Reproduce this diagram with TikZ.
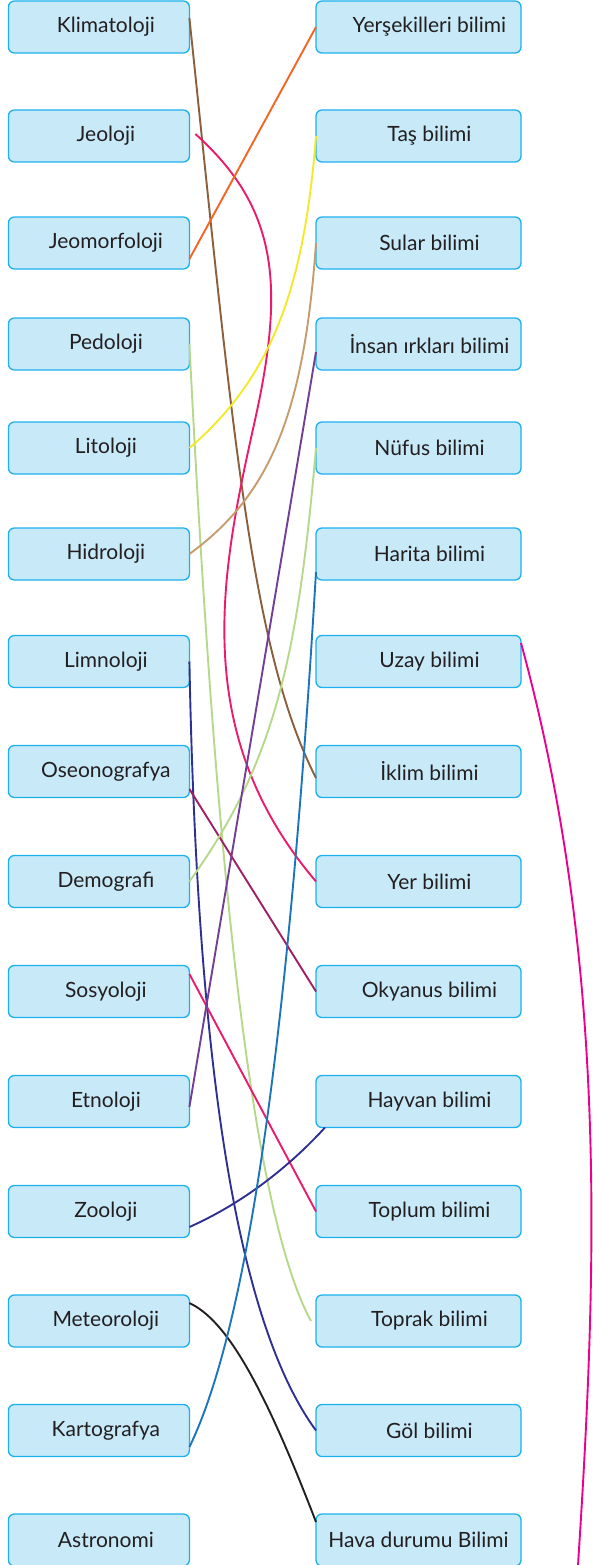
\documentclass[tikz,border=0pt]{standalone}
\usepackage{fontspec}
\setmainfont{Lato}
\usepackage{xcolor}
\usepackage{tikz}
\usetikzlibrary{positioning, calc}
\definecolor{boxfill}{HTML}{C7E9F8}
\definecolor{boxline}{HTML}{1CB1EE}
\definecolor{txt}{HTML}{231F20}
\definecolor{cbrown}{HTML}{8B5E3C}
\definecolor{corange}{HTML}{F26522}
\definecolor{cpink}{HTML}{EC1A6A}
\definecolor{cyellow}{HTML}{F2E92A}
\definecolor{ctan}{HTML}{C69C6D}
\definecolor{cgreen}{HTML}{B6D88A}
\definecolor{cpurple}{HTML}{723E96}
\definecolor{cnavy}{HTML}{2E3192}
\definecolor{cmaroon}{HTML}{9E1F63}
\definecolor{cblue}{HTML}{1C75BC}
\definecolor{cmagenta}{HTML}{EC008C}
\tikzstyle{namebox} = [rectangle, minimum width=181pt, minimum height=52pt, text centered, draw=boxline, fill=boxfill, rounded corners=6pt, line width=1.3pt, outer sep=0pt, text=txt, font=\fontsize{21}{25}\selectfont]
\tikzstyle{leftbox} = [namebox, execute at begin node=\hspace*{14pt}]
\tikzstyle{widebox} = [namebox, minimum width=205pt]
\tikzstyle{rightbox} = [widebox, execute at begin node=\hspace*{22pt}]
\tikzstyle{link} = [line width=1.9pt]

\begin{document}
\begin{tikzpicture}[x=1pt, y=1pt]
    \useasboundingbox (0,0) rectangle (593,-1565);

    % Left column
    \node (klima) [leftbox] at (98.9,-27) {Klimatoloji};
    \node (jeoloji) [leftbox, below=57pt of klima] {Jeoloji};
    \node (jeomorf) [leftbox, below=55pt of jeoloji] {Jeomorfoloji};
    \node (pedoloji) [leftbox, below=49pt of jeomorf] {Pedoloji};
    \node (litoloji) [leftbox, below=52pt of pedoloji] {Litoloji};
    \node (hidroloji) [leftbox, below=54pt of litoloji] {Hidroloji};
    \node (limnoloji) [leftbox, below=55.5pt of hidroloji] {Limnoloji};
    \node (oseono) [leftbox, below=58pt of limnoloji] {Oseonografya};
    \node (demografi) [leftbox, below=58pt of oseono] {Demografi};
    \node (sosyoloji) [leftbox, below=58pt of demografi] {Sosyoloji};
    \node (etnoloji) [leftbox, below=58pt of sosyoloji] {Etnoloji};
    \node (zooloji) [leftbox, below=58pt of etnoloji] {Zooloji};
    \node (meteo) [leftbox, below=57.5pt of zooloji] {Meteoroloji};
    \node (karto) [leftbox, below=57.5pt of meteo] {Kartografya};
    \node (astro) [leftbox, below=57.5pt of karto] {Astronomi};

    % Right column
    \node (yersekil) [rightbox, right=126.6pt of klima] {Yerşekilleri bilimi};
    \node (tas) [rightbox, right=126.6pt of jeoloji] {Taş bilimi};
    \node (sular) [rightbox, right=126.6pt of jeomorf] {Sular bilimi};
    \node (insan) [rightbox, right=126.6pt of pedoloji] {İnsan ırkları bilimi};
    \node (nufus) [rightbox, right=126.6pt of litoloji] {Nüfus bilimi};
    \node (harita) [rightbox, right=126.6pt of hidroloji] {Harita bilimi};
    \node (uzay) [rightbox, right=126.6pt of limnoloji] {Uzay bilimi};
    \node (iklim) [rightbox, right=126.6pt of oseono] {İklim bilimi};
    \node (yer) [rightbox, right=126.6pt of demografi] {Yer bilimi};
    \node (okyanus) [rightbox, right=126.6pt of sosyoloji] {Okyanus bilimi};
    \node (hayvan) [rightbox, right=126.6pt of etnoloji] {Hayvan bilimi};
    \node (toplum) [rightbox, right=126.6pt of zooloji] {Toplum bilimi};
    \node (toprak) [rightbox, right=126.6pt of meteo] {Toprak bilimi};
    \node (gol) [rightbox, right=126.6pt of karto] {Göl bilimi};
    \node (hava) [widebox, right=126.6pt of astro] {Hava durumu Bilimi};

    % Matching lines
    \coordinate (jeobend) at (255,-420);
    \coordinate (uzayend) at (578,-1565);
    \draw [link, cbrown] ([yshift=9pt]klima.east) to[out=-84, in=117, out distance=414pt, in distance=144pt] ([yshift=-6.5pt]iklim.west);
    \draw [link, cpink] ([xshift=6pt, yshift=2pt]jeoloji.east) to[out=-42, in=77.5, out distance=110pt, in distance=140pt] (jeobend)
        to[out=-102.5, in=130.4, out distance=150pt, in distance=200pt] (yer.west);
    \draw [link, corange] ([yshift=-16pt]jeomorf.east) -- (yersekil.west);
    \draw [link, cgreen] (pedoloji.east) to[out=-87.1, in=118.6, out distance=450pt, in distance=138pt] ([xshift=-5pt]toprak.west);
    \draw [link, cyellow] (litoloji.east) to[out=40.5, in=-94.5, out distance=110pt, in distance=150pt] (tas.west);
    \draw [link, ctan] (hidroloji.east) to[out=36, in=-94, out distance=100pt, in distance=170pt] (sular.west);
    \draw [link, cnavy] (limnoloji.east) to[out=-88.9, in=126.3, out distance=350pt, in distance=150pt] (gol.west);
    \draw [link, cmaroon] ([yshift=-17.5pt]oseono.east) -- (okyanus.west);
    \draw [link, cgreen] (demografi.east) to[out=54, in=-95, out distance=150pt, in distance=200pt] (nufus.west);
    \draw [link, cpink] ([yshift=17.5pt]sosyoloji.east) -- (toplum.west);
    \draw [link, cpurple] ([yshift=-5.5pt]etnoloji.east) -- ([yshift=-8pt]insan.west);
    \draw [link, cnavy] ([yshift=-15.5pt]zooloji.east) to[out=24, in=-132.4, out distance=65pt, in distance=45pt] ([xshift=9pt]hayvan.south west);
    \draw [link, txt] ([yshift=18pt]meteo.east) to[out=-25, in=111, out distance=40pt, in distance=150pt] ([yshift=18pt]hava.west);
    \draw [link, cblue] ([yshift=-16.5pt]karto.east) to[out=64, in=-93.4, out distance=150pt, in distance=400pt] ([yshift=-18pt]harita.west);
    \draw [link, cmagenta] ([yshift=18.5pt]uzay.east) to[out=-74.7, in=86.3, out distance=330pt, in distance=300pt] (uzayend);
\end{tikzpicture}
\end{document}
